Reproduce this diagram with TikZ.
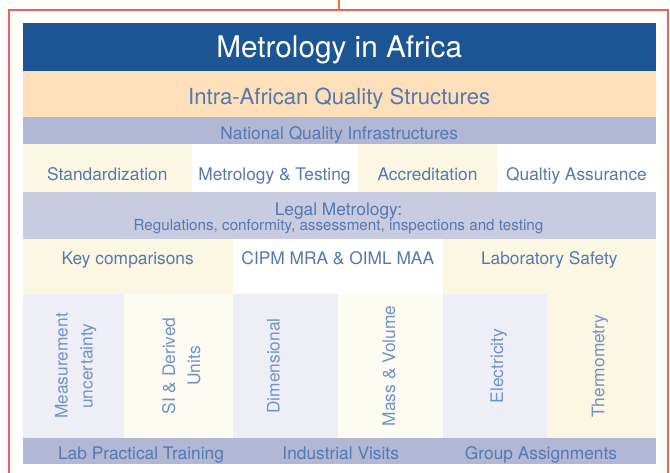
\documentclass[tikz,border=0pt]{standalone}
\usepackage{fontspec}
\setmainfont{TeX Gyre Heros}
\definecolor{titleblue}{RGB}{28,85,148}
\definecolor{peach}{RGB}{253,223,185}
\definecolor{lilac}{RGB}{178,183,214}
\definecolor{palelilac}{RGB}{200,204,224}
\definecolor{cream}{RGB}{252,247,227}
\definecolor{palecream}{RGB}{252,252,242}
\definecolor{palegrey}{RGB}{238,239,246}
\definecolor{textblue}{RGB}{84,120,176}
\definecolor{lightblue}{RGB}{112,146,200}
\definecolor{framered}{RGB}{240,98,86}
\definecolor{wireorange}{RGB}{238,114,34}
\tikzset{
  lbl/.style={text=textblue, inner sep=0pt, anchor=base, font=\fontsize{13}{15.6}\selectfont},
  vlbl/.style={text=lightblue, inner sep=0pt, anchor=base, rotate=90, align=center, font=\fontsize{13}{18.75}\selectfont}
}

\begin{document}
\begin{tikzpicture}[x=0.75pt, y=-0.75pt]
		%%%%% START %%%%%
		\useasboundingbox (0, 0) rectangle (670, 472);
		\clip (0, 0) rectangle (670, 472);
		
		\draw[line width=1.2pt, color=framered] (8.7, 9.8) rectangle (667.8, 490);
		\coordinate (feed) at (339, 0);
		\coordinate (frametop) at (339, 9.8);
		\draw[line width=1.5pt, color=wireorange] (feed) -- (frametop);
		
		\fill[titleblue] (22.7, 23) rectangle (655.7, 70.7);
		\fill[peach] (22.7, 70.7) rectangle (655.7, 116.7);
		\fill[lilac] (22.7, 116.7) rectangle (655.7, 144);
		
		\fill[cream] (22.7, 144) rectangle (192, 191.7);
		\fill[white] (192, 144) rectangle (358, 191.7);
		\fill[cream] (358, 144) rectangle (497, 191.7);
		\fill[white] (497, 144) rectangle (655.7, 191.7);
		
		\fill[palelilac] (22.7, 191.7) rectangle (655.7, 239.3);
		
		\fill[cream] (22.7, 239.3) rectangle (233, 294);
		\fill[white] (233, 239.3) rectangle (443, 294);
		\fill[cream] (443, 239.3) rectangle (655.7, 294);
		
		\fill[palegrey] (22.7, 294) rectangle (124, 437.7);
		\fill[palecream] (124, 294) rectangle (233, 437.7);
		\fill[palegrey] (233, 294) rectangle (338, 437.7);
		\fill[palecream] (338, 294) rectangle (443, 437.7);
		\fill[palegrey] (443, 294) rectangle (547, 437.7);
		\fill[cream] (547, 294) rectangle (655.7, 437.7);
		
		\fill[lilac] (22.7, 437.7) rectangle (655.7, 464.3);
		
		\node[text=white, inner sep=0pt, anchor=base, font=\fontsize{22.3}{26}\selectfont] (title) at (339.2, 57.5) {Metrology in Africa};
		\node[lbl, font=\fontsize{16.6}{20}\selectfont] (intra) at (339.2, 104.5) {Intra-African Quality Structures};
		\node[lbl] (nqi) at (339.2, 139) {National Quality Infrastructures};
		
		\node[lbl] (std) at (107.3, 180) {Standardization};
		\node[lbl] (mtest) at (274.5, 180) {Metrology \& Testing};
		\node[lbl] (accr) at (427.5, 180) {Accreditation};
		\node[lbl] (qa) at (576.5, 180) {Qualtiy Assurance};
		
		\node[lbl] (legal) at (338.5, 215.3) {Legal Metrology:};
		\node[lbl, font=\fontsize{11.4}{13.7}\selectfont] (regs) at (338.5, 230.8) {Regulations, conformity, assessment, inspections and testing};
		
		\node[lbl] (keycmp) at (127.7, 264) {Key comparisons};
		\node[lbl] (cipm) at (337.8, 264) {CIPM MRA \& OIML MAA};
		\node[lbl] (labsafe) at (549.3, 264) {Laboratory Safety};
		
		\node[vlbl] (unc) at (92.7, 366) {Measurement\\uncertainty};
		\node[vlbl] (si) at (200, 366) {SI \& Derived\\Units};
		\node[vlbl] (dim) at (279.5, 366) {Dimensional};
		\node[vlbl] (mass) at (395, 366) {Mass \& Volume};
		\node[vlbl] (elec) at (503, 366) {Electricity};
		\node[vlbl] (thermo) at (604.4, 366) {Thermometry};
		
		\node[lbl] (train) at (141, 459.5) {Lab Practical Training};
		\node[lbl] (visits) at (340.7, 459.5) {Industrial Visits};
		\node[lbl] (groups) at (541, 459.5) {Group Assignments};
		
		%%%%% END %%%%%
	\end{tikzpicture}
\end{document}
